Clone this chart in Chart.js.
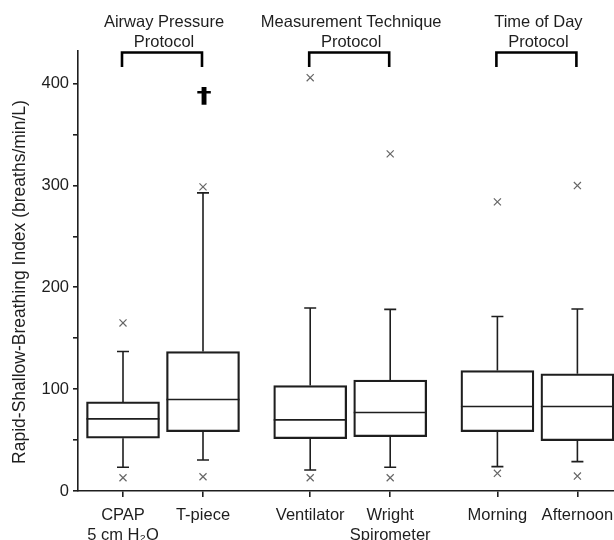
<!DOCTYPE html>
<html>
<head>
<meta charset="utf-8">
<script src="https://cdn.jsdelivr.net/npm/chart.js@4/dist/chart.umd.min.js"></script>
<style>
  html, body { margin: 0; padding: 0; background: #fff; }
  #wrap { width: 614px; height: 540px; }
</style>
</head>
<body>
<div id="wrap"><canvas id="c" width="614" height="540"></canvas></div>
<script>
// ---- data ----
const categories = [['CPAP', '5 cm H\u2082O'], 'T-piece', 'Ventilator', ['Wright', 'Spirometer'], 'Morning', 'Afternoon'];
const groupOf = [0, 0, 1, 1, 2, 2];
const groupLabels = [['Airway Pressure', 'Protocol'], ['Measurement Technique', 'Protocol'], ['Time of Day', 'Protocol']];
const q1 = [51.8, 58.3, 51.4, 53.4, 58.3, 49.5];
const q3 = [87.5, 137, 103.5, 108.8, 118.3, 115];
const median = [70.8, 89.8, 69.8, 77, 82.9, 82.9];
const whiskerLow = [23.3, 30.5, 20.6, 23.3, 23.9, 28.8];
const whiskerHigh = [137, 292.7, 179.6, 178.3, 171.4, 178.7];
const outlierHigh = [165, 298.6, 405.8, 331, 283.9, 299.9];
const outlierLow = [13, 14, 13, 13, 17.4, 14.7];
const markerIndex = 1;      // dagger above T-piece
const markerValue = 388;
const yTickValues = [0, 50, 100, 150, 200, 250, 300, 350, 400];
const yTitle = 'Rapid-Shallow-Breathing Index (breaths/min/L)';

// ---- layout helpers (positions computed from group structure) ----
const GROUP_STEP = 2.34;
const xPos = categories.map((c, i) => groupOf[i] * GROUP_STEP + (i - 2 * groupOf[i]));

const FONT = '"Liberation Sans", Arial, sans-serif';
const INK = '#1e1e1e';
Chart.defaults.font.family = FONT;
Chart.defaults.color = INK;

const boxData = xPos.map((x, i) => ({ x: x, y: [q1[i], q3[i]] }));
const outlierData = [];
xPos.forEach((x, i) => {
  outlierData.push({ x: x, y: outlierHigh[i] });
  outlierData.push({ x: x, y: outlierLow[i] });
});

const boxPlugin = {
  id: 'boxDetails',
  afterDatasetsDraw(chart) {
    const ctx = chart.ctx;
    const xs = chart.scales.x, ys = chart.scales.y;
    const meta = chart.getDatasetMeta(0);
    ctx.save();
    ctx.strokeStyle = INK;
    ctx.lineWidth = 1.6;
    meta.data.forEach((bar, i) => {
      const cx = xs.getPixelForValue(xPos[i]);
      const half = bar.width / 2;
      const cap = 6;
      const ym = ys.getPixelForValue(median[i]);
      ctx.beginPath();
      ctx.moveTo(cx - half, ym); ctx.lineTo(cx + half, ym);
      const yq3 = ys.getPixelForValue(q3[i]);
      const ywh = ys.getPixelForValue(whiskerHigh[i]);
      ctx.moveTo(cx, yq3); ctx.lineTo(cx, ywh);
      ctx.moveTo(cx - cap, ywh); ctx.lineTo(cx + cap, ywh);
      const yq1 = ys.getPixelForValue(q1[i]);
      const ywl = ys.getPixelForValue(whiskerLow[i]);
      ctx.moveTo(cx, yq1); ctx.lineTo(cx, ywl);
      ctx.moveTo(cx - cap, ywl); ctx.lineTo(cx + cap, ywl);
      ctx.stroke();
    });
    // significance dagger
    ctx.fillStyle = '#000';
    ctx.font = 'bold 21px "DejaVu Sans", sans-serif';
    ctx.textAlign = 'center';
    ctx.textBaseline = 'middle';
    ctx.translate(xs.getPixelForValue(xPos[markerIndex]) + 1, ys.getPixelForValue(markerValue) + 2);
    ctx.scale(1.45, 1);
    ctx.fillText('\u2020', 0, 0);
    ctx.restore();
  },
  afterDraw(chart) {
    const ctx = chart.ctx;
    const xs = chart.scales.x;
    const area = chart.chartArea;
    ctx.save();
    ctx.fillStyle = INK;
    ctx.strokeStyle = '#000';
    ctx.font = '16.5px ' + FONT;
    ctx.textAlign = 'center';
    ctx.textBaseline = 'middle';
    groupLabels.forEach((lines, g) => {
      const idx = [];
      groupOf.forEach((gg, i) => { if (gg === g) idx.push(i); });
      const xl = xs.getPixelForValue(xPos[idx[0]]) - 1;
      const xr = xs.getPixelForValue(xPos[idx[idx.length - 1]]) - 1;
      const xc = (xl + xr) / 2 + 2;
      lines.forEach((t, k) => ctx.fillText(t, xc, 22 + k * 20));
      ctx.lineWidth = 2.6;
      ctx.beginPath();
      ctx.moveTo(xl, 67); ctx.lineTo(xl, 52.5); ctx.lineTo(xr, 52.5); ctx.lineTo(xr, 67);
      ctx.stroke();
    });
    // y-axis title
    ctx.font = '17.5px ' + FONT;
    ctx.translate(20, (area.top + area.bottom) / 2 + 11);
    ctx.rotate(-Math.PI / 2);
    ctx.fillText(yTitle, 0, 0);
    ctx.restore();
  }
};

new Chart(document.getElementById('c'), {
  type: 'bar',
  data: {
    datasets: [
      {
        type: 'bar',
        data: boxData,
        backgroundColor: 'rgba(255,255,255,0)',
        borderColor: INK,
        borderWidth: 1.6,
        borderSkipped: false,
        barThickness: 73,
        order: 2
      },
      {
        type: 'scatter',
        data: outlierData,
        pointStyle: 'crossRot',
        radius: 5,
        borderColor: '#666',
        borderWidth: 1.2,
        backgroundColor: '#666',
        order: 1
      }
    ]
  },
  options: {
    responsive: false,
    animation: false,
    devicePixelRatio: 1,
    events: [],
    layout: { autoPadding: false, padding: { top: 51, right: 0, bottom: 0, left: 0 } },
    plugins: { legend: { display: false }, tooltip: { enabled: false } },
    scales: {
      x: {
        type: 'linear',
        offset: false,
        min: -0.5625,
        max: 6.1375,
        afterBuildTicks(scale) { scale.ticks = xPos.map(v => ({ value: v })); },
        afterFit(scale) { scale.height = 49; scale.paddingLeft = 0; scale.paddingRight = 0; },
        grid: { display: true, offset: false, drawOnChartArea: false, drawTicks: true, tickLength: 6, color: INK, lineWidth: 1.6 },
        border: { display: true, color: INK, width: 1.6 },
        ticks: {
          autoSkip: false, maxRotation: 0, minRotation: 0,
          padding: 8,
          font: { size: 16.5, lineHeight: 1.24 },
          color: INK,
          callback: (v, i) => categories[i]
        }
      },
      y: {
        type: 'linear',
        min: 0,
        max: 432,
        afterBuildTicks(scale) { scale.ticks = yTickValues.map(v => ({ value: v })); },
        afterFit(scale) { scale.width = 78; scale.paddingTop = 0; scale.paddingBottom = 0; },
        grid: { display: true, drawOnChartArea: false, drawTicks: true, tickLength: 5, color: INK, lineWidth: 1.6 },
        border: { display: true, color: INK, width: 1.6 },
        ticks: {
          padding: 4,
          font: { size: 16.5 },
          color: INK,
          callback: v => (v % 100 === 0 ? String(v) : '')
        },
        title: { display: false }
      }
    }
  },
  plugins: [boxPlugin]
});
</script>
</body>
</html>
